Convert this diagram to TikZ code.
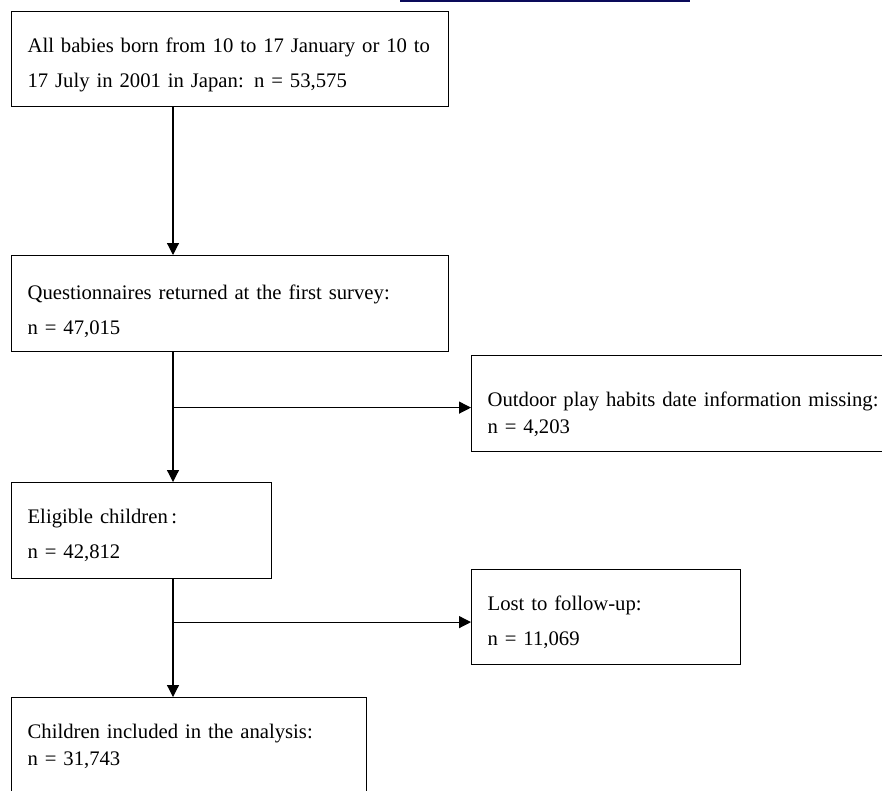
\documentclass[tikz,border=0pt]{standalone}
\usepackage{fontspec}
\setmainfont{Liberation Serif}
\usetikzlibrary{arrows.meta}
\definecolor{linkblue}{RGB}{10,10,90}

\begin{document}
\begin{tikzpicture}[x=1pt,y=-1pt,
    box/.style={draw,line width=1.2pt,anchor=north west,align=left,
      inner xsep=16pt,inner ysep=0pt,minimum height=96pt,
      font=\fontsize{20.7}{35}\selectfont,
      execute at begin node={\rule{0pt}{#1}}},
    box/.default=25.5pt,
    flow/.style={line width=1.2pt,-{Triangle[length=12pt,width=12pt]}}]
  \useasboundingbox (0,0) rectangle (882,790);

  \draw[linkblue,line width=2.5pt] (400,1) -- (690,1);

  \node[box,minimum height=95pt,text width=405pt] (born) at (11,11)
    {\mbox{All babies born from 10 to 17 January or 10 to}\\17 July in 2001 in Japan: n = 53,575};
  \node[box=29.5pt,text width=405pt] (quest) at (11,255)
    {Questionnaires returned at the first survey:\\n = 47,015};
  \node[box=35.5pt,text width=400pt,font=\fontsize{20.7}{27}\selectfont] (missing) at (471,355)
    {Outdoor play habits date information missing:\\n = 4,203};
  \node[box=23.5pt,text width=228pt] (elig) at (11,482)
    {Eligible children\,:\\n = 42,812};
  \node[box,minimum height=95pt,text width=237pt] (lost) at (471,569)
    {Lost to follow-up:\\n = 11,069};
  \node[box=15.5pt,text width=323pt,font=\fontsize{20.7}{27}\selectfont] (incl) at (11,697)
    {Children included in the analysis:\\n = 31,743};

  \coordinate (spine) at (173,0);
  \draw[flow] (born.south -| spine) -- (quest.north -| spine);
  \draw[flow] (quest.south -| spine) -- (elig.north -| spine);
  \draw[flow] ([yshift=-4pt]missing.west -| spine) -- ([yshift=-4pt]missing.west);
  \draw[flow] (elig.south -| spine) -- (incl.north -| spine);
  \draw[flow] ([yshift=-5pt]lost.west -| spine) -- ([yshift=-5pt]lost.west);
\end{tikzpicture}
\end{document}
